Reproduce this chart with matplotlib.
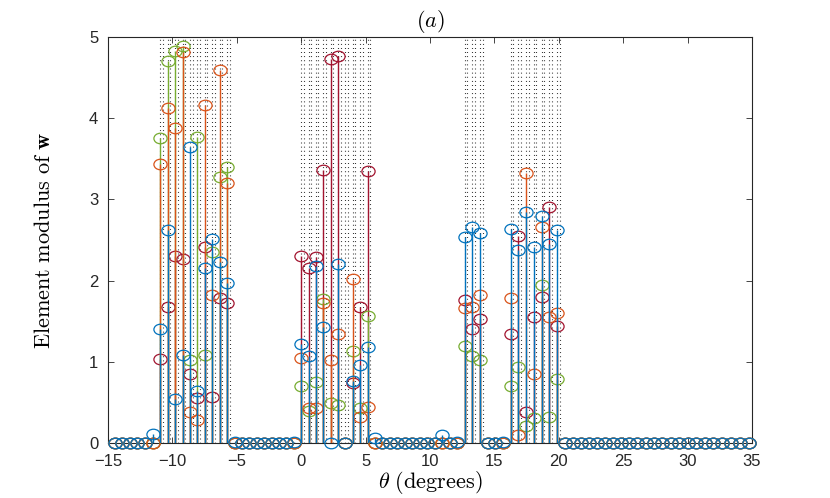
import numpy as np
import matplotlib
matplotlib.use("Agg")
import matplotlib.pyplot as plt
from matplotlib.path import Path

plt.rcParams['mathtext.fontset'] = 'cm'
plt.rcParams['font.family'] = ['Liberation Sans', 'DejaVu Sans']

# sampling grid, uniform in sin(theta)
u_grid = np.round(np.arange(-0.25, 0.5701, 0.01), 2)

# non-zero (or visibly raised) grid points
act_u = [-0.20, -0.19, -0.18, -0.17, -0.16, -0.15, -0.14, -0.13, -0.12, -0.11, -0.10, -0.09,
         -0.01, 0.00, 0.01, 0.02, 0.03, 0.04, 0.05, 0.06, 0.07, 0.08, 0.09, 0.10,
         0.19, 0.21, 0.22, 0.23, 0.24, 0.27, 0.28, 0.29, 0.30, 0.31, 0.32, 0.33, 0.34]
blue_act = [0.11, 1.41, 2.62, 0.55, 1.09, 3.64, 0.64, 2.15, 2.51, 2.23, 1.97, 0.02,
            0.02, 1.22, 1.07, 2.18, 1.43, 0.00, 2.20, 0.00, 0.76, 0.96, 1.18, 0.06,
            0.10, 0.02, 2.54, 2.66, 2.59, 0.02, 2.64, 2.38, 2.85, 2.42, 2.80, 2.45, 2.62]
orange_act = [0, 3.43, 4.12, 3.88, 4.81, 0.38, 0.28, 4.16, 1.82, 4.59, 3.20, 0,
              0, 1.05, 0.43, 0.43, 1.73, 1.02, 1.34, 0, 2.02, 0.32, 0.45, 0,
              0, 0, 1.66, 1.67, 1.82, 0, 1.79, 0.10, 3.33, 0.85, 2.66, 1.55, 1.60]
green_act = [0, 3.75, 4.70, 4.82, 4.89, 1.02, 3.77, 1.09, 2.35, 3.28, 3.40, 0,
             0, 0.71, 0.40, 0.75, 1.77, 0.50, 0.47, 0, 1.14, 0.43, 1.57, 0,
             0, 0, 1.20, 1.07, 1.02, 0, 0.71, 0.94, 0.21, 0.31, 1.95, 0.32, 0.79]
red_act = [0, 1.04, 1.67, 2.30, 2.27, 0.85, 0.56, 2.41, 0.57, 1.79, 1.73, 0,
           0, 2.30, 2.15, 2.29, 3.36, 4.73, 4.76, 0, 0.74, 1.67, 3.35, 0,
           0, 0, 1.76, 1.40, 1.53, 0, 1.35, 2.55, 0.39, 1.55, 1.80, 2.91, 1.44]

# true source directions (dotted markers)
src_u = [-0.19, -0.18, -0.17, -0.16, -0.15, -0.14, -0.13, -0.12, -0.11, -0.10,
         0.00, 0.01, 0.02, 0.03, 0.04, 0.05, 0.06, 0.07, 0.08, 0.09,
         0.22, 0.23, 0.24, 0.28, 0.29, 0.30, 0.31, 0.32, 0.33, 0.34]

theta = np.degrees(np.arcsin(u_grid))


def full_series(vals):
    out = np.zeros(len(u_grid))
    for uu, v in zip(act_u, vals):
        out[np.argmin(np.abs(u_grid - uu))] = v
    return out


series = [
    (full_series(red_act), '#A2142F'),
    (full_series(green_act), '#77AC30'),
    (full_series(orange_act), '#D95319'),
    (full_series(blue_act), '#0072BD'),
]

# slightly flattened circle, like the stretched matlab export
circ = Path.unit_circle()
ellipse = Path(circ.vertices * np.array([1.0, 0.8]), circ.codes)

fig = plt.figure(figsize=(8.3, 4.98), dpi=100)
ax = fig.add_axes([0.130, 0.110, 0.776, 0.816])

src_t = np.degrees(np.arcsin(np.array(src_u)))
for t in src_t:
    for off in (0.0, 0.2):
        ax.plot([t + off, t + off], [0, 5], color='k', lw=0.8,
                dashes=(0.7, 3.0), zorder=1)

z = 2
for vals, col in series:
    nz = vals != 0
    ax.vlines(theta[nz], 0, vals[nz], color=col, lw=1.0, zorder=z)
    ax.plot(theta, vals, ls='none', marker=ellipse, markersize=9.5, mfc='none',
            mec=col, mew=0.9, clip_on=False, zorder=z + 0.5)
    z += 1

ax.set_xlim(-15, 35)
ax.set_ylim(0, 5)
ax.set_xticks(np.arange(-15, 36, 5))
ax.set_yticks(np.arange(0, 6, 1))
ax.tick_params(direction='in', top=True, right=True, labelsize=12, length=4,
               width=0.6, colors='#262626')
ax.tick_params(axis='x', pad=8)
ax.tick_params(axis='y', pad=7)
for sp in ax.spines.values():
    sp.set_linewidth(0.8)
    sp.set_color('#262626')

ax.set_title(r'$(a)$', fontsize=16, pad=7)
ax.set_xlabel(r'$\theta\ \mathrm{(degrees)}$', fontsize=16, labelpad=0)
ax.set_ylabel(r'$\mathrm{Element\ modulus\ of\ }\mathbf{w}$', fontsize=16, labelpad=24)

fig.savefig('out.png', dpi=100)
